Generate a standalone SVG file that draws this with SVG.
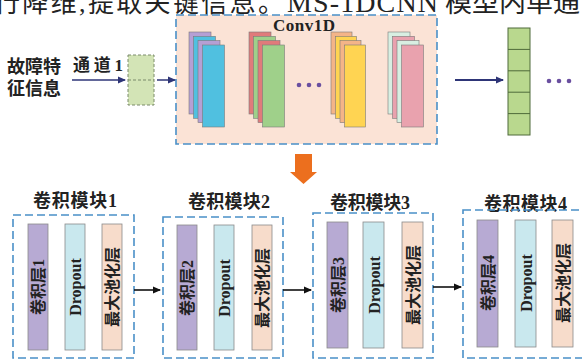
<svg xmlns="http://www.w3.org/2000/svg" width="582" height="362" viewBox="0 0 582 362">
<defs>
<style>
.cjk{font-family:"Liberation Serif","Noto Sans CJK SC",serif;fill:#222}
.lat{font-family:"Liberation Serif",serif;fill:#222}
.dash{fill:none;stroke:#4a90c8;stroke-width:1.6;stroke-dasharray:8 4}
.bar{stroke:#8a8a8a;stroke-width:0.8}
.pu{fill:#b7aad3}.cy{fill:#c9e8ee}.pe{fill:#f7dccb}
.lay{stroke:#7a7a7a;stroke-width:0.6}
.lbl{font-size:18px;font-weight:bold}
.vt{font-size:16px;font-weight:bold}
</style>
<marker id="ab" markerWidth="8" markerHeight="8" refX="7" refY="4" orient="auto" markerUnits="userSpaceOnUse"><path d="M0,0.5 L8,4 L0,7.5 Z" fill="#2e3577"/></marker>
<marker id="ak" markerWidth="8" markerHeight="8" refX="7" refY="4" orient="auto" markerUnits="userSpaceOnUse"><path d="M0,0.5 L8,4 L0,7.5 Z" fill="#111"/></marker>
</defs>
<rect width="582" height="362" fill="#ffffff"/>

<!-- clipped header text -->
<g id="header">
<text class="cjk" x="-6" y="12" font-size="26" textLength="290">行降维,提取关键信息。</text>
<text class="lat" x="287" y="12" font-size="28" textLength="151">MS-1DCNN</text>
<text class="cjk" x="445" y="12" font-size="27">模型内单通</text>
</g>

<g id="input">
<text class="cjk" x="7" y="73" font-size="18" font-weight="bold">故障特</text>
<text class="cjk" x="7" y="95" font-size="18" font-weight="bold">征信息</text>
<text class="cjk" x="73" y="71" font-size="17" font-weight="bold" textLength="50">通道1</text>
</g>

<g id="channel">
<rect x="128" y="55" width="26" height="50" fill="#d3e4b6" stroke="#7a8a6a" stroke-width="1" stroke-dasharray="3 2"/>
<line x1="128" y1="80" x2="154" y2="80" stroke="#7a8a6a" stroke-width="1" stroke-dasharray="3 2"/>
</g>

<g id="conv1d">
<rect x="176" y="15" width="261" height="129" fill="#fbe3d6"/>
<rect x="176" y="15" width="261" height="129" class="dash"/>
<text class="lat" x="273" y="31" font-size="17" font-weight="bold" textLength="62">Conv1D</text>
<!-- stack 1 -->
<rect class="lay" x="189" y="32" width="22" height="82" fill="#b59fd4"/>
<rect class="lay" x="193.5" y="36.3" width="22" height="82" fill="#50c0e0"/>
<rect class="lay" x="198" y="40.6" width="22" height="82" fill="#b59fd4"/>
<rect class="lay" x="202.5" y="45" width="22" height="82" fill="#50c0e0"/>
<!-- stack 2 -->
<rect class="lay" x="249" y="32" width="22" height="82" fill="#e07b7b"/>
<rect class="lay" x="253.5" y="36.3" width="22" height="82" fill="#9fd08a"/>
<rect class="lay" x="258" y="40.6" width="22" height="82" fill="#e07b7b"/>
<rect class="lay" x="262.5" y="45" width="22" height="82" fill="#9fd08a"/>
<!-- dots -->
<g fill="#6a4fa0"><circle cx="299" cy="85" r="2.3"/><circle cx="309" cy="85" r="2.3"/><circle cx="319" cy="85" r="2.3"/></g>
<!-- stack 3 -->
<rect class="lay" x="331" y="32" width="21" height="82" fill="#f4b488"/>
<rect class="lay" x="335.5" y="36.3" width="21" height="82" fill="#ffd452"/>
<rect class="lay" x="340" y="40.6" width="21" height="82" fill="#f4b488"/>
<rect class="lay" x="344.5" y="45" width="21" height="82" fill="#ffd452"/>
<!-- stack 4 -->
<rect class="lay" x="388" y="32" width="22" height="82" fill="#d8efe2"/>
<rect class="lay" x="392.5" y="36.3" width="22" height="82" fill="#e9a2ae"/>
<rect class="lay" x="397" y="40.6" width="22" height="82" fill="#d8efe2"/>
<rect class="lay" x="401.5" y="45" width="22" height="82" fill="#e9a2ae"/>
</g>

<g id="output">
<rect x="508" y="28" width="22" height="107" fill="#b9d88e" stroke="#4f6a3a" stroke-width="1"/>
<g stroke="#4f6a3a" stroke-width="1"><line x1="508" y1="49.4" x2="530" y2="49.4"/><line x1="508" y1="70.8" x2="530" y2="70.8"/><line x1="508" y1="92.2" x2="530" y2="92.2"/><line x1="508" y1="113.6" x2="530" y2="113.6"/></g>
<g fill="#6a4fa0"><circle cx="549" cy="81" r="2.3"/><circle cx="559" cy="81" r="2.3"/><circle cx="569" cy="81" r="2.3"/></g>
</g>

<g id="module1">
<text class="cjk lbl" x="33" y="207" textLength="84">卷积模块1</text>
<rect class="dash" x="13" y="215" width="121" height="143"/>
<rect class="bar pu" x="28" y="224" width="20" height="126"/>
<rect class="bar cy" x="65" y="224" width="20" height="126"/>
<rect class="bar pe" x="102" y="224" width="20" height="126"/>
<text class="cjk vt" transform="translate(43.5,287) rotate(-90)" text-anchor="middle">卷积层1</text>
<text class="lat vt" transform="translate(80.5,287) rotate(-90)" text-anchor="middle">Dropout</text>
<text class="cjk vt" transform="translate(117.5,287) rotate(-90)" text-anchor="middle">最大池化层</text>
</g>

<g id="module2">
<text class="cjk lbl" x="188" y="208" textLength="82">卷积模块2</text>
<rect class="dash" x="163" y="217" width="120" height="141"/>
<rect class="bar pu" x="177" y="225" width="20" height="125"/>
<rect class="bar cy" x="214" y="225" width="20" height="125"/>
<rect class="bar pe" x="252" y="225" width="20" height="125"/>
<text class="cjk vt" transform="translate(192.5,288) rotate(-90)" text-anchor="middle">卷积层2</text>
<text class="lat vt" transform="translate(229.5,288) rotate(-90)" text-anchor="middle">Dropout</text>
<text class="cjk vt" transform="translate(267.5,288) rotate(-90)" text-anchor="middle">最大池化层</text>
</g>

<g id="module3">
<text class="cjk lbl" x="330" y="209" textLength="80">卷积模块3</text>
<rect class="dash" x="313" y="213" width="120" height="145"/>
<rect class="bar pu" x="327" y="222" width="21" height="126"/>
<rect class="bar cy" x="363" y="222" width="21" height="126"/>
<rect class="bar pe" x="402" y="222" width="21" height="126"/>
<text class="cjk vt" transform="translate(343.5,285) rotate(-90)" text-anchor="middle">卷积层3</text>
<text class="lat vt" transform="translate(379.5,285) rotate(-90)" text-anchor="middle">Dropout</text>
<text class="cjk vt" transform="translate(418.5,285) rotate(-90)" text-anchor="middle">最大池化层</text>
</g>

<g id="module4">
<text class="cjk lbl" x="484" y="210" textLength="83">卷积模块4</text>
<rect class="dash" x="463" y="210" width="130" height="148"/>
<rect class="bar pu" x="477" y="220" width="21" height="127"/>
<rect class="bar cy" x="515" y="220" width="21" height="127"/>
<rect class="bar pe" x="552" y="220" width="21" height="127"/>
<text class="cjk vt" transform="translate(493.5,283) rotate(-90)" text-anchor="middle">卷积层4</text>
<text class="lat vt" transform="translate(531.5,283) rotate(-90)" text-anchor="middle">Dropout</text>
<text class="cjk vt" transform="translate(568.5,283) rotate(-90)" text-anchor="middle">最大池化层</text>
</g>

<g id="connectors">
<line x1="72" y1="80" x2="125" y2="80" stroke="#2e3577" stroke-width="1.5" marker-end="url(#ab)"/>
<line x1="157" y1="80" x2="175" y2="80" stroke="#2e3577" stroke-width="1.5" marker-end="url(#ab)"/>
<line x1="455" y1="80" x2="503" y2="80" stroke="#2e3577" stroke-width="1.8" marker-end="url(#ab)"/>
<path d="M295,154 H312 V172 H317 L303.5,184 L290,172 H295 Z" fill="#ec6f1e"/>
<line x1="134" y1="290" x2="160" y2="290" stroke="#111" stroke-width="1.6" marker-end="url(#ak)"/>
<line x1="283" y1="290" x2="311" y2="290" stroke="#111" stroke-width="1.6" marker-end="url(#ak)"/>
<line x1="433" y1="287" x2="461" y2="287" stroke="#111" stroke-width="1.6" marker-end="url(#ak)"/>
</g>
</svg>
